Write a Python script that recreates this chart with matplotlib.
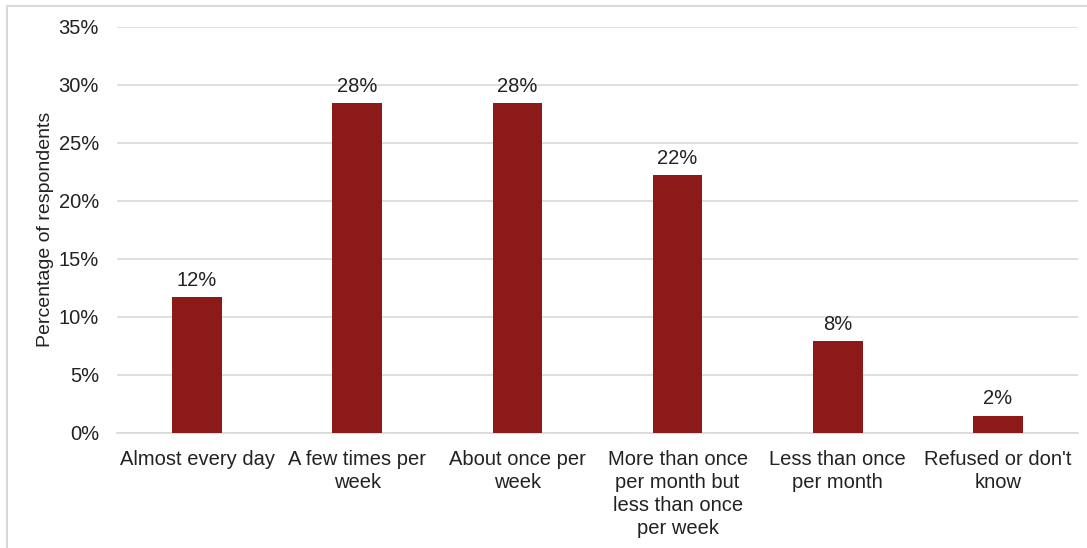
import matplotlib
matplotlib.use("Agg")
import matplotlib.pyplot as plt
from matplotlib.patches import Rectangle
from matplotlib.ticker import MultipleLocator, FuncFormatter

categories = [
    "Almost every day",
    "A few times per\nweek",
    "About once per\nweek",
    "More than once\nper month but\nless than once\nper week",
    "Less than once\nper month",
    "Refused or don't\nknow",
]
values = [11.7, 28.4, 28.4, 22.2, 7.9, 1.5]

bar_color = "#8B1A18"
grid_color = "#D9D9D9"
text_color = "#222222"
fs = 14.5

plt.rcParams["font.family"] = ["Liberation Sans", "DejaVu Sans"]

fig = plt.figure(figsize=(10.87, 5.48), dpi=100)
ax = fig.add_axes([117 / 1087, 1 - 433 / 548, (1078 - 117) / 1087, (433 - 26.5) / 548])

x = range(len(categories))
ax.bar(x, values, width=0.31, color=bar_color, zorder=3)

for xi, v in zip(x, values):
    ax.text(xi, v + 0.65, f"{v:.0f}%", ha="center", va="bottom",
            fontsize=fs, color=text_color)

ax.set_xlim(-0.5, len(categories) - 0.5)
ax.set_ylim(0, 35)
ax.yaxis.set_major_locator(MultipleLocator(5))
ax.yaxis.set_major_formatter(FuncFormatter(lambda v, _: f"{v:.0f}%"))
ax.grid(axis="y", color=grid_color, linewidth=1.2, zorder=0)
ax.set_axisbelow(True)

for s in ["top", "right", "left"]:
    ax.spines[s].set_visible(False)
ax.spines["bottom"].set_color(grid_color)
ax.spines["bottom"].set_linewidth(1.2)

ax.set_xticks(list(x))
ax.set_xticklabels(categories, fontsize=fs, color=text_color, linespacing=1.25)
ax.tick_params(axis="x", length=0, pad=12.5)
ax.tick_params(axis="y", length=0, pad=13, labelsize=fs, labelcolor=text_color)

ax.set_ylabel("Percentage of respondents", fontsize=14, color=text_color, labelpad=3)

# outer frame
fig.patches.append(Rectangle((7 / 1087, -0.01), 1.2, 1 - 6 / 548 + 0.01,
                             transform=fig.transFigure, fill=False,
                             edgecolor="#D9D9D9", linewidth=1.5))

fig.savefig("out.png", dpi=100)
